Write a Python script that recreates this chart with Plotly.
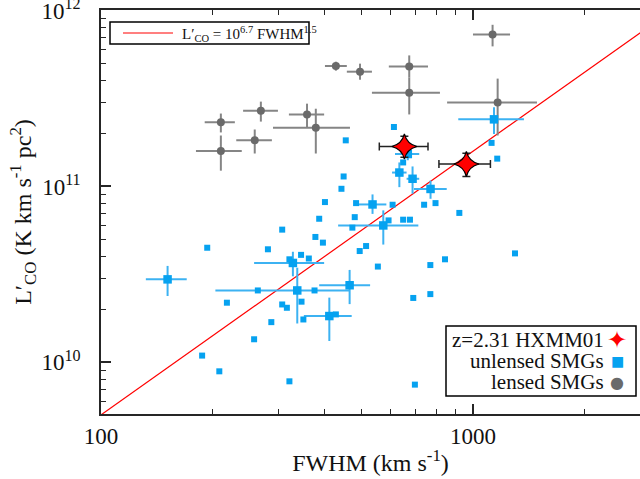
import numpy as np
import plotly.graph_objects as go

# ---------------- data ----------------
# unlensed SMGs without error bars
unl_fwhm = [443, 400, 485, 481, 386, 474, 307, 377, 395, 193,
            281, 496, 516, 345, 362, 321, 264, 375, 218, 307,
            316, 346, 287, 350, 428, 258, 187, 208, 321, 455,
            449, 613, 649, 1122, 1162, 608, 739, 793, 919, 593,
            649, 677, 1297, 841, 768, 555, 768, 691, 698]
unl_lco = [9.70e10, 8.15e10, 8.04e10, 6.69e10, 6.55e10, 5.83e10, 5.68e10, 5.16e10, 4.79e10, 4.48e10,
           4.39e10, 4.29e10, 4.58e10, 4.08e10, 3.89e10, 3.85e10, 2.56e10, 2.56e10, 2.18e10, 2.13e10,
           2.04e10, 2.21e10, 1.69e10, 1.75e10, 1.87e10, 1.35e10, 1.09e10, 8.87e9, 7.78e9, 1.83e11,
           1.14e11, 2.18e11, 1.37e11, 1.77e11, 1.44e11, 7.87e10, 7.87e10, 8.04e10, 7.07e10, 6.41e10,
           6.47e10, 6.47e10, 4.16e10, 3.85e10, 3.57e10, 3.50e10, 2.44e10, 2.32e10, 7.45e9]

# unlensed SMGs with error bars
unle_fwhm = [151, 328, 337, 466, 411, 537, 574, 634, 688, 769, 1139, 668]
unle_fwhm_lo = [132, 258, 203, 386, 351, 491, 434, 606, 663, 694, 913, 617]
unle_fwhm_hi = [170, 398, 467, 529, 472, 585, 713, 663, 717, 850, 1371, 717]
unle_lco = [2.96e10, 3.67e10, 2.56e10, 2.74e10, 1.83e10, 7.90e10, 6.00e10, 1.20e11, 1.106e11, 9.68e10, 2.41e11, 1.53e11]
unle_lco_lo = [2.38e10, 3.08e10, 1.66e10, 2.14e10, 1.32e10, 6.98e10, 4.67e10, 9.91e10, 9.09e10, 8.51e10, 1.99e11, 1.41e11]
unle_lco_hi = [3.53e10, 4.25e10, 3.45e10, 3.35e10, 2.33e10, 9.01e10, 7.31e10, 1.37e11, 1.30e11, 1.08e11, 2.82e11, 1.67e11]

# lensed SMGs
len_fwhm = [428, 497, 210, 210, 269, 259, 358, 378, 1129, 674, 674, 1165]
len_fwhm_lo = [400, 458, 190, 180, 241, 231, 320, 290, 1000, 594, 535, 852]
len_fwhm_hi = [458, 535, 229, 239, 299, 288, 398, 467, 1258, 757, 815, 1486]
len_lco = [4.85e11, 4.50e11, 2.32e11, 1.59e11, 2.70e11, 1.83e11, 2.57e11, 2.16e11, 7.33e11, 4.81e11, 3.41e11, 3.01e11]
len_lco_lo = [4.56e11, 4.05e11, 2.03e11, 1.23e11, 2.34e11, 1.54e11, 2.16e11, 1.54e11, 6.27e11, 4.18e11, 2.57e11, 1.95e11]
len_lco_hi = [5.13e11, 5.00e11, 2.60e11, 1.95e11, 3.04e11, 2.11e11, 2.96e11, 2.77e11, 8.32e11, 5.57e11, 4.18e11, 4.11e11]

# HXMM01 components
hx_fwhm = [654, 960]
hx_fwhm_lo = [560, 810]
hx_fwhm_hi = [757, 1114]
hx_lco = [1.688e11, 1.342e11]
hx_lco_lo = [1.467e11, 1.14e11]
hx_lco_hi = [1.93e11, 1.546e11]

# relation L'CO = 10^6.7 FWHM^1.5
rel_norm = 10 ** 6.7
rel_slope = 1.5
rel_fwhm = [100, 3000]

x_range = [100, 2812]
y_range = [5.07e9, 1.01e12]
x_tickvals = [100, 1000]
x_ticktext = ["100", "1000"]
y_tickvals = [1e10, 1e11, 1e12]
y_ticktext = ["10<sup>10</sup>", "10<sup>11</sup>", "10<sup>12</sup>"]

rel_label = "L′<sub>CO</sub> = 10<sup>6.7</sup> FWHM<sup>1.5</sup>"
leg_labels = ["z=2.31 HXMM01", "unlensed SMGs", "lensed SMGs"]


def up(v, hi):
    return list(np.array(hi) - np.array(v))


def dn(v, lo):
    return list(np.array(v) - np.array(lo))


BLUE = "#06a2f0"
BLUE_ERR = "#3cb2f2"
GRAY = "#6a6a6a"
GRAY_ERR = "#858585"
SERIF = "Liberation Serif"

fig = go.Figure()

# relation line
rx = np.array(rel_fwhm, dtype=float)
fig.add_trace(go.Scatter(
    x=rx, y=rel_norm * rx ** rel_slope, mode="lines",
    line=dict(color="#ff0000", width=1.2), name=rel_label, showlegend=False))

# lensed SMGs
fig.add_trace(go.Scatter(
    x=len_fwhm, y=len_lco, mode="markers",
    marker=dict(symbol="circle", size=8, color=GRAY),
    error_x=dict(type="data", array=up(len_fwhm, len_fwhm_hi), arrayminus=dn(len_fwhm, len_fwhm_lo),
                 color=GRAY_ERR, thickness=2, width=0),
    error_y=dict(type="data", array=up(len_lco, len_lco_hi), arrayminus=dn(len_lco, len_lco_lo),
                 color=GRAY_ERR, thickness=2, width=0),
    name=leg_labels[2], showlegend=False))

# unlensed with errors
fig.add_trace(go.Scatter(
    x=unle_fwhm, y=unle_lco, mode="markers",
    marker=dict(symbol="square", size=8.5, color=BLUE),
    error_x=dict(type="data", array=up(unle_fwhm, unle_fwhm_hi), arrayminus=dn(unle_fwhm, unle_fwhm_lo),
                 color=BLUE_ERR, thickness=2, width=0),
    error_y=dict(type="data", array=up(unle_lco, unle_lco_hi), arrayminus=dn(unle_lco, unle_lco_lo),
                 color=BLUE_ERR, thickness=2, width=0),
    name=leg_labels[1], showlegend=False))

# unlensed without errors
fig.add_trace(go.Scatter(
    x=unl_fwhm, y=unl_lco, mode="markers",
    marker=dict(symbol="square", size=6, color=BLUE),
    name=leg_labels[1], showlegend=False))

# HXMM01
fig.add_trace(go.Scatter(
    x=hx_fwhm, y=hx_lco, mode="markers",
    marker=dict(symbol="star-diamond", size=18, color="#ff0000", line=dict(color="black", width=1.2)),
    error_x=dict(type="data", array=up(hx_fwhm, hx_fwhm_hi), arrayminus=dn(hx_fwhm, hx_fwhm_lo),
                 color="#222222", thickness=1.5, width=4),
    error_y=dict(type="data", array=up(hx_lco, hx_lco_hi), arrayminus=dn(hx_lco, hx_lco_lo),
                 color="#222222", thickness=1.5, width=4),
    name=leg_labels[0], showlegend=False))

# ---------------- layout ----------------
# plot area on the page: x 101..640, y 10..414 (page margin removed via post_script)
SX0, SX1, SY0, SY1 = 101, 640, 10, 414
W, H = 640, 479
L, T = SX0, SY0
R = W - SX1
B = H - SY1
pw, ph = W - L - R, H - T - B

axis_color = "#262626"

fig.update_layout(
    width=W, height=H,
    margin=dict(l=L, r=R, t=T, b=B, autoexpand=False),
    paper_bgcolor="white", plot_bgcolor="white",
    font=dict(family=SERIF, size=22, color="#111111"),
    showlegend=False,
    xaxis=dict(
        type="log", range=list(np.log10(x_range)), automargin=False,
        tickmode="array", tickvals=x_tickvals, ticktext=x_ticktext,
        ticks="inside", ticklen=10, tickwidth=1.5, tickcolor=axis_color,
        minor=dict(ticks="inside", ticklen=5, dtick="D1",
                   tickwidth=1.2, tickcolor=axis_color, showgrid=False),
        showline=True, linecolor=axis_color, linewidth=1.5, mirror="allticks",
        showgrid=False, zeroline=False,
        tickfont=dict(family=SERIF, size=23),
        ticklabelstandoff=1, ticklabeloverflow="allow",
        title=dict(text="FWHM (km s<sup>-1</sup>)", font=dict(family=SERIF, size=24), standoff=6),
    ),
    yaxis=dict(
        type="log", range=list(np.log10(y_range)), automargin=False,
        tickmode="array", tickvals=y_tickvals, ticktext=y_ticktext,
        ticks="inside", ticklen=10, tickwidth=1.5, tickcolor=axis_color,
        minor=dict(ticks="inside", ticklen=5, dtick="D1",
                   tickwidth=1.2, tickcolor=axis_color, showgrid=False),
        showline=True, linecolor=axis_color, linewidth=1.5, mirror=False,
        showgrid=False, zeroline=False,
        tickfont=dict(family=SERIF, size=23),
        ticklabelstandoff=14, ticklabeloverflow="allow",
        title=dict(text="L′<sub>CO</sub> (K km s<sup>-1</sup> pc<sup>2</sup>)",
                   font=dict(family=SERIF, size=24), standoff=3),
    ),
    yaxis2=dict(
        type="log", range=list(np.log10(y_range)), overlaying="y", side="right", anchor="x",
        tickmode="array", tickvals=[1e10, 1e11], ticks="inside", ticklen=3,
        tickwidth=1.5, tickcolor=axis_color, showticklabels=False,
        showline=False, showgrid=False, zeroline=False, automargin=False,
    ),
)


def px2x(p):
    return (p - L) / pw


def py2y(p):
    return (H - B - p) / ph


# legend box (top left) for the relation
fig.add_shape(type="rect", xref="paper", yref="paper",
              x0=px2x(110), x1=px2x(309), y0=py2y(44), y1=py2y(22),
              line=dict(color="black", width=1.5), fillcolor="white", layer="above")
fig.add_shape(type="line", xref="paper", yref="paper",
              x0=px2x(123), x1=px2x(173), y0=py2y(33), y1=py2y(33),
              line=dict(color="#ff0000", width=1.2), layer="above")
fig.add_annotation(xref="paper", yref="paper", x=px2x(181), y=py2y(33.5),
                   xanchor="left", yanchor="middle", text=rel_label, showarrow=False,
                   font=dict(family=SERIF, size=15, color="#111111"), borderpad=0)

# legend box (bottom right)
fig.add_shape(type="rect", xref="paper", yref="paper",
              x0=px2x(446), x1=px2x(636), y0=py2y(396), y1=py2y(326),
              line=dict(color="black", width=1.5), fillcolor="white", layer="above")

leg_syms = ["✦", "■", "●"]
leg_cols = ["#ff0000", BLUE, GRAY]
leg_sizes = [24, 14, 16]
leg_py = [340, 361, 382]
for lab, sym, col, sz, py in zip(leg_labels, leg_syms, leg_cols, leg_sizes, leg_py):
    fig.add_annotation(xref="paper", yref="paper", x=px2x(605), y=py2y(py),
                       xanchor="right", yanchor="middle", text=lab, showarrow=False,
                       font=dict(family=SERIF, size=21, color="#111111"), borderpad=0)
    fig.add_annotation(xref="paper", yref="paper", x=px2x(617), y=py2y(py),
                       xanchor="center", yanchor="middle", text=sym, showarrow=False,
                       font=dict(family="DejaVu Sans", size=sz, color=col), borderpad=0)

page_js = ("document.documentElement.style.overflow='hidden';"
           "document.body.style.margin='0';document.body.style.overflow='hidden';")
fig.write_html("out.html", post_script=page_js, config={"displayModeBar": False})
